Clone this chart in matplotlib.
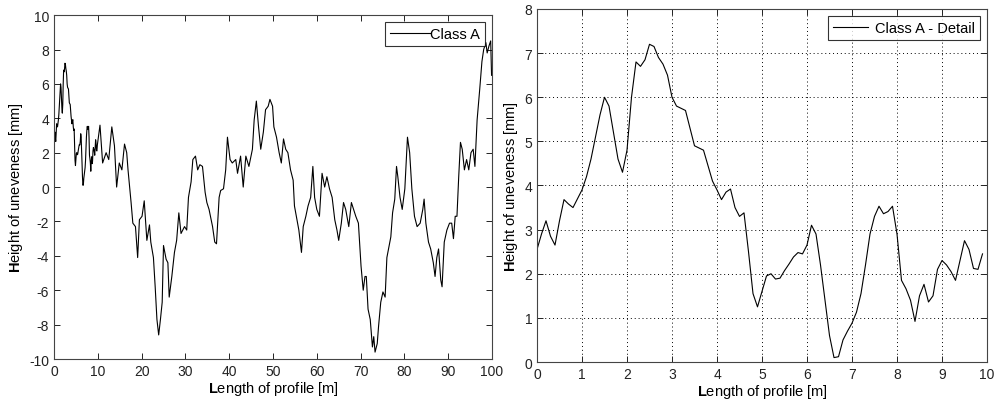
import matplotlib
matplotlib.use("Agg")
import matplotlib.pyplot as plt

plt.rcParams['font.family'] = ['Liberation Sans', 'DejaVu Sans']
plt.rcParams['mathtext.fontset'] = 'custom'
plt.rcParams['mathtext.rm'] = 'Liberation Sans'
plt.rcParams['mathtext.bf'] = 'Liberation Sans:bold'
plt.rcParams['axes.unicode_minus'] = False

# Detail: first 10 m of the profile, read at 0.1 m steps
detail_x = [i / 10 for i in range(100)]
detail_y = [2.55, 2.9, 3.2, 2.85, 2.65, 3.2, 3.68, 3.58, 3.5, 3.7,
            3.9, 4.2, 4.6, 5.1, 5.6, 6.0, 5.8, 5.2, 4.6, 4.3,
            4.8, 6.0, 6.8, 6.7, 6.85, 7.2, 7.15, 6.9, 6.75, 6.5,
            6.0, 5.8, 5.75, 5.7, 5.3, 4.9, 4.85, 4.8, 4.45, 4.1,
            3.9, 3.68, 3.85, 3.92, 3.5, 3.3, 3.38, 2.5, 1.55, 1.25,
            1.6, 1.95, 2.0, 1.88, 1.9, 2.07, 2.22, 2.38, 2.48, 2.45,
            2.65, 3.1, 2.9, 2.2, 1.4, 0.6, 0.1, 0.12, 0.5, 0.7,
            0.88, 1.13, 1.55, 2.2, 2.9, 3.3, 3.53, 3.36, 3.41, 3.53,
            2.9, 1.85, 1.66, 1.4, 0.92, 1.5, 1.76, 1.36, 1.5, 2.1,
            2.3, 2.2, 2.05, 1.85, 2.3, 2.75, 2.55, 2.12, 2.1, 2.45]

# Rest of the profile (10 m - 100 m)
rest_x = [10.5, 11.1, 11.9, 12.5, 13.2, 13.8, 14.3, 14.9, 15.5, 16.1,
          16.6, 16.9, 17.6, 18.0, 18.6, 19.1, 19.5, 20.1, 20.6, 21.2,
          21.8, 22.1, 22.7, 23.1, 23.5, 23.9, 24.3, 24.7, 25.0, 25.6,
          26.0, 26.3, 26.9, 27.5, 28.0, 28.5, 29.0, 29.8, 30.3, 30.7,
          31.3, 31.7, 32.3, 32.8, 33.3, 33.9, 34.5, 34.9, 35.4, 36.2,
          36.7, 37.1, 37.7, 38.05, 38.7, 39.2, 39.6, 40.2, 40.7, 41.5,
          41.9, 42.6, 43.2, 43.8, 44.5, 45.3, 45.7, 46.2, 46.7, 47.2,
          47.8, 48.3, 48.9, 49.3, 49.9, 50.2, 50.8, 51.4, 51.9, 52.4,
          52.9, 53.4, 54.0, 54.6, 54.9, 55.6, 55.9, 56.5, 56.9, 57.5,
          58.0, 58.6, 59.1, 59.5, 60.0, 60.6, 61.2, 61.8, 62.3, 62.9,
          63.5, 64.1, 64.6, 65.0, 65.6, 66.1, 66.6, 67.3, 67.9, 68.4,
          68.9, 69.5, 70.1, 70.6, 71.0, 71.3, 71.7, 72.2, 72.7, 73.0,
          73.3, 73.8, 74.1, 74.6, 75.1, 75.6, 76.0, 76.6, 76.9, 77.3,
          77.8, 78.2, 78.5, 79.0, 79.5, 80.1, 80.7, 81.2, 81.7, 82.3,
          82.9, 83.6, 84.2, 84.5, 84.9, 85.5, 86.0, 86.6, 87.0, 87.4,
          87.8, 88.3, 88.6, 89.1, 89.7, 90.3, 90.8, 91.2, 91.6, 92.0,
          92.4, 92.8, 93.2, 93.7, 94.2, 94.7, 95.2, 95.7, 96.1, 96.6,
          97.2, 97.7, 98.1, 98.6, 98.9, 99.3, 99.7, 99.9]
rest_y = [3.6, 1.4, 2.0, 1.6, 3.5, 2.4, 0.0, 1.4, 1.0, 2.5,
          2.0, 1.0, -0.9, -2.1, -2.3, -4.1, -1.9, -1.7, -0.8, -3.1,
          -2.2, -3.2, -4.1, -5.8, -7.7, -8.6, -7.7, -6.7, -3.4, -4.2,
          -4.4, -6.4, -5.2, -3.8, -3.1, -1.5, -2.7, -2.3, -2.5, -0.6,
          0.3, 1.6, 1.8, 1.0, 1.3, 1.2, -0.3, -0.9, -1.3, -2.3,
          -3.2, -3.3, -0.6, -0.2, -0.1, 1.0, 2.9, 1.6, 1.4, 1.6,
          0.8, 1.8, 0.0, 1.8, 1.2, 2.2, 3.9, 5.0, 3.5, 2.2,
          3.2, 4.5, 4.7, 5.1, 4.7, 3.5, 2.9, 2.0, 1.4, 2.8,
          2.2, 2.0, 1.0, 0.4, -1.1, -2.1, -2.5, -3.8, -2.3, -1.7,
          -1.1, -0.6, 1.2, -0.6, -1.3, -1.7, 0.8, 0.0, 0.6, -0.1,
          -0.6, -1.9, -2.5, -3.1, -2.1, -0.9, -1.3, -2.3, -0.9, -1.3,
          -1.7, -2.1, -4.6, -6.0, -5.2, -5.2, -7.1, -7.7, -9.3, -8.7,
          -9.6, -9.1, -8.1, -6.7, -6.1, -6.4, -4.1, -3.3, -2.9, -1.5,
          -0.7, 1.2, 0.6, -0.6, -1.3, -0.1, 2.9, 2.0, -0.1, -1.7,
          -2.3, -2.1, -1.3, -0.7, -2.1, -3.2, -3.6, -4.4, -5.2, -4.1,
          -3.6, -5.4, -5.8, -3.2, -2.5, -2.1, -2.1, -3.0, -1.7, -1.7,
          0.6, 2.6, 2.2, 1.0, 1.6, 1.0, 2.0, 2.2, 1.2, 3.9,
          5.7, 7.3, 8.0, 8.4, 7.8, 8.2, 8.5, 6.5]

full_x = detail_x + rest_x
full_y = detail_y + rest_y

fig = plt.figure(figsize=(10, 4.06), dpi=100)
ax1 = fig.add_axes([0.054, 0.1133, 0.438, 0.847])
ax2 = fig.add_axes([0.537, 0.1059, 0.45, 0.8695])

tick_fs = 10
lab_fs = 10.5
leg_fs = 10.5
ylab = r"$\mathbf{H}$eight of uneveness [mm]"
xlab = r"$\mathbf{L}$ength of profile [m]"

ax1.plot(full_x, full_y, color='black', lw=0.8, label='Class A')
ax1.set_xlim(0, 100)
ax1.set_ylim(-10, 10)
ax1.set_xticks(range(0, 101, 10))
ax1.set_yticks(range(-10, 11, 2))
ax1.set_xlabel(xlab, fontsize=lab_fs, labelpad=1)
ax1.set_ylabel(ylab, fontsize=lab_fs, labelpad=3)
ax1.legend(loc='upper right', fontsize=leg_fs, frameon=True, fancybox=False,
           edgecolor='black', handlelength=2.8, handletextpad=0.0,
           borderaxespad=0.45, borderpad=0.35)

ax2.plot(detail_x, detail_y, color='black', lw=0.8, label='Class A - Detail')
ax2.set_xlim(0, 10)
ax2.set_ylim(0, 8)
ax2.set_xticks(range(0, 11))
ax2.set_yticks(range(0, 9))
ax2.grid(True, linestyle=(0, (1, 3)), color='black', lw=0.7)
ax2.set_xlabel(xlab, fontsize=lab_fs, labelpad=1)
ax2.set_ylabel(ylab, fontsize=lab_fs, labelpad=3)
ax2.legend(loc='upper right', fontsize=leg_fs, frameon=True, fancybox=False,
           edgecolor='black', handlelength=2.4, handletextpad=0.5,
           borderaxespad=0.45, borderpad=0.35)

for ax in (ax1, ax2):
    ax.tick_params(direction='in', top=True, right=True, labelsize=tick_fs,
                   length=4, width=0.7, colors='#222222')
    for s in ax.spines.values():
        s.set_color('#444444')
        s.set_linewidth(0.8)
    ax.get_legend().get_frame().set_linewidth(0.8)

fig.savefig('out.png', dpi=100)
